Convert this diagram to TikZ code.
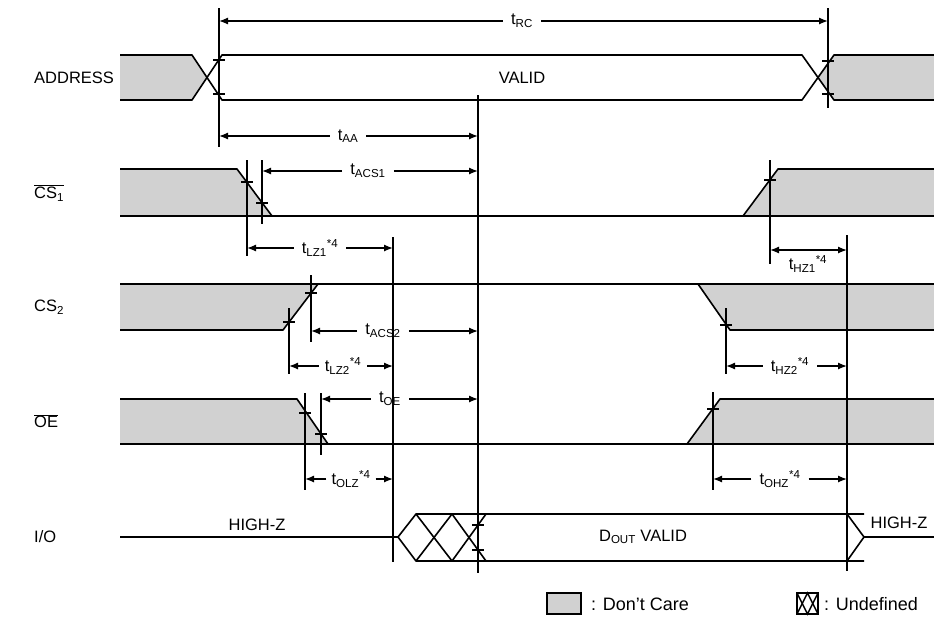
\documentclass[tikz,border=0pt]{standalone}
\usepackage{fontspec}
\setmainfont{Liberation Sans}
\usepackage{tikz}
\usetikzlibrary{arrows,arrows.meta}

\tikzset{
  sig/.style={line width=1.6pt, line join=round},
  care/.style={fill=black!18, draw=none},
  tline/.style={line width=1.3pt},
  crosstick/.style={line width=1.3pt},
  dim/.style={line width=1.3pt, -{Latex[length=9pt,width=7pt]}},
  lbl/.style={inner sep=8pt, font=\fontsize{16.5}{19}\selectfont},
  rowname/.style={anchor=west, inner sep=0pt, font=\fontsize{16.5}{19}\selectfont},
  keytext/.style={anchor=west, inner sep=0pt, font=\fontsize{18}{21}\selectfont}
}

\begin{document}
\begin{tikzpicture}[x=1pt,y=-1pt]
   \useasboundingbox (0,0) rectangle (934,619);

   % row names
   \node[rowname] (nAddr) at (34,78) {ADDRESS};
   \node[rowname] (nCs1) at (34,193) {$\overline{\mbox{CS\textsubscript{1}}}$};
   \node[rowname] (nCs2) at (34,307) {CS\textsubscript{2}};
   \node[rowname] (nOe) at (34,421) {$\overline{\mbox{OE}}$};
   \node[rowname] (nIo) at (34,537) {I/O};

   % ADDRESS
   \fill[care] (120,55) -- (192,55) -- (207,77.5) -- (192,100) -- (120,100) -- cycle;
   \fill[care] (934,55) -- (834,55) -- (818,77.5) -- (834,100) -- (934,100) -- cycle;
   \draw[sig] (120,55) -- (192,55) -- (222,100) -- (802,100) -- (834,55) -- (934,55);
   \draw[sig] (120,100) -- (192,100) -- (222,55) -- (802,55) -- (834,100) -- (934,100);
   \node[lbl] (valid) at (522,78) {VALID};

   % CS1
   \fill[care] (120,169) -- (237,169) -- (272,216) -- (120,216) -- cycle;
   \fill[care] (743,216) -- (778,169) -- (934,169) -- (934,216) -- cycle;
   \draw[sig] (120,169) -- (237,169) -- (272,216);
   \draw[sig] (120,216) -- (934,216);
   \draw[sig] (743,216) -- (778,169) -- (934,169);

   % CS2
   \fill[care] (120,284) -- (318,284) -- (283,330) -- (120,330) -- cycle;
   \fill[care] (698,284) -- (934,284) -- (934,330) -- (730,330) -- cycle;
   \draw[sig] (120,284) -- (934,284);
   \draw[sig] (120,330) -- (283,330) -- (318,284);
   \draw[sig] (698,284) -- (730,330) -- (934,330);

   % OE
   \fill[care] (120,399) -- (297,399) -- (328,444) -- (120,444) -- cycle;
   \fill[care] (687,444) -- (720,399) -- (934,399) -- (934,444) -- cycle;
   \draw[sig] (120,399) -- (297,399) -- (328,444);
   \draw[sig] (120,444) -- (934,444);
   \draw[sig] (687,444) -- (720,399) -- (934,399);

   % I/O
   \draw[sig] (120,537) -- (398,537) -- (416,514) -- (864,514);
   \draw[sig] (398,537) -- (416,561) -- (864,561);
   \draw[sig] (416,514) -- (452,561) -- (486,514);
   \draw[sig] (416,561) -- (452,514) -- (486,561);
   \draw[sig] (847,514) -- (864,537) -- (847,561);
   \draw[sig] (864,537) -- (934,537);
   \node[lbl] (hz1) at (257,525) {HIGH-Z};
   \node[lbl] (hz2) at (899,523) {HIGH-Z};
   \node[lbl] (dout) at (643,537) {D\textsubscript{OUT} VALID};

   % timing lines
   \draw[tline] (219,8) -- (219,147);
   \draw[tline] (828,8) -- (828,108);
   \draw[tline] (478,95) -- (478,573);
   \draw[tline] (247,160) -- (247,256);
   \draw[tline] (262,160) -- (262,224);
   \draw[tline] (770,160) -- (770,264);
   \draw[tline] (393,237) -- (393,562);
   \draw[tline] (847,235) -- (847,571);
   \draw[tline] (289,308) -- (289,374);
   \draw[tline] (311,275) -- (311,342);
   \draw[tline] (726,308) -- (726,374);
   \draw[tline] (305,393) -- (305,490);
   \draw[tline] (321,393) -- (321,455);
   \draw[tline] (713,392) -- (713,490);

   % crossing ticks
   \foreach \x/\y in {219/60, 219/94, 828/61, 828/94, 247/182, 262/203, 770/180,
                      289/322, 311/293, 726/325, 305/413, 321/434, 713/409,
                      478/525, 478/550}
      \draw[crosstick] (\x-6,\y) -- (\x+6,\y);

   % t_RC
   \coordinate (rcL) at (219,21);
   \coordinate (rcR) at (828,21);
   \node[lbl] (tRC) at (522,21) {t\textsubscript{RC}};
   \draw[dim] (tRC) -- (rcL);
   \draw[dim] (tRC) -- (rcR);

   % t_AA
   \coordinate (aaL) at (219,136);
   \coordinate (aaR) at (478,136);
   \node[lbl] (tAA) at (348,136) {t\textsubscript{AA}};
   \draw[dim] (tAA) -- (aaL);
   \draw[dim] (tAA) -- (aaR);

   % t_ACS1
   \coordinate (acs1L) at (262,171);
   \coordinate (acs1R) at (478,171);
   \node[lbl] (tACS1) at (368,171) {t\textsubscript{ACS1}};
   \draw[dim] (tACS1) -- (acs1L);
   \draw[dim] (tACS1) -- (acs1R);

   % t_LZ1
   \coordinate (lz1L) at (247,248);
   \coordinate (lz1R) at (393,248);
   \node[lbl] (tLZ1) at (320,248) {t\textsubscript{LZ1}\textsuperscript{*4}};
   \draw[dim] (tLZ1) -- (lz1L);
   \draw[dim] (tLZ1) -- (lz1R);

   % t_HZ1
   \coordinate (hz1L) at (770,250);
   \coordinate (hz1R) at (847,250);
   \draw[dim, {Latex[length=9pt,width=7pt]}-{Latex[length=9pt,width=7pt]}] (hz1L) -- (hz1R);
   \node[lbl, inner sep=0pt] (tHZ1) at (808,264) {t\textsubscript{HZ1}\textsuperscript{*4}};

   % t_ACS2
   \coordinate (acs2L) at (311,331);
   \coordinate (acs2R) at (478,331);
   \node[lbl] (tACS2) at (383,331) {t\textsubscript{ACS2}};
   \draw[dim] (tACS2) -- (acs2L);
   \draw[dim] (tACS2) -- (acs2R);

   % t_LZ2
   \coordinate (lz2L) at (289,366);
   \coordinate (lz2R) at (393,366);
   \node[lbl, inner sep=6pt] (tLZ2) at (343,366) {t\textsubscript{LZ2}\textsuperscript{*4}};
   \draw[dim] (tLZ2) -- (lz2L);
   \draw[dim] (tLZ2) -- (lz2R);

   % t_HZ2
   \coordinate (hz2L) at (726,366);
   \coordinate (hz2R) at (847,366);
   \node[lbl] (tHZ2) at (790,366) {t\textsubscript{HZ2}\textsuperscript{*4}};
   \draw[dim] (tHZ2) -- (hz2L);
   \draw[dim] (tHZ2) -- (hz2R);

   % t_OE
   \coordinate (oeL) at (321,399);
   \coordinate (oeR) at (478,399);
   \node[lbl] (tOE) at (390,399) {t\textsubscript{OE}};
   \draw[dim] (tOE) -- (oeL);
   \draw[dim] (tOE) -- (oeR);

   % t_OLZ
   \coordinate (olzL) at (305,479);
   \coordinate (olzR) at (393,479);
   \node[lbl, inner sep=5pt] (tOLZ) at (351,479) {t\textsubscript{OLZ}\textsuperscript{*4}};
   \draw[dim] (tOLZ) -- (olzL);
   \draw[dim] (tOLZ) -- (olzR);

   % t_OHZ
   \coordinate (ohzL) at (713,479);
   \coordinate (ohzR) at (847,479);
   \node[lbl] (tOHZ) at (780,479) {t\textsubscript{OHZ}\textsuperscript{*4}};
   \draw[dim] (tOHZ) -- (ohzL);
   \draw[dim] (tOHZ) -- (ohzR);

   % legend
   \filldraw[fill=black!18, line width=1.4pt] (547,593) rectangle (581,614);
   \node[keytext] (kCare) at (591,604) {: Don't Care};
   \draw[line width=1.4pt] (797,593) rectangle (818,614);
   \draw[line width=1.4pt] (797,593) -- (807.5,614) -- (818,593);
   \draw[line width=1.4pt] (797,614) -- (807.5,593) -- (818,614);
   \node[keytext] (kUndef) at (824,604) {: Undefined};
\end{tikzpicture}
\end{document}
